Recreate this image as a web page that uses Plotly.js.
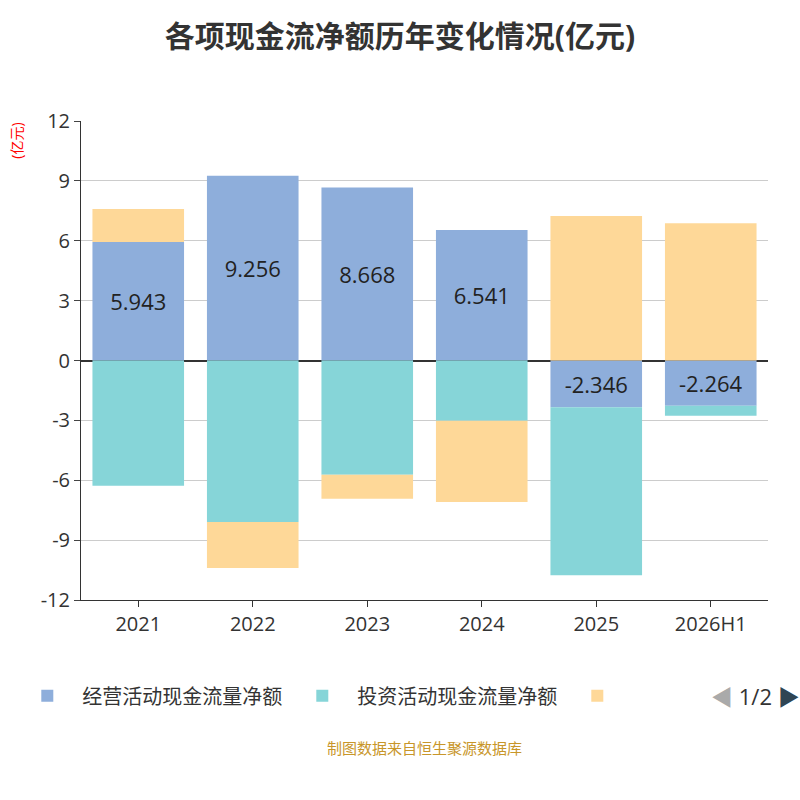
<!DOCTYPE html><html><head><meta charset="utf-8"><script src="https://cdn.plot.ly/plotly-3.0.1.min.js"></script></head><body style="margin:0"><div id="c" style="width:800px;height:800px"></div><script>
const categories=["2021","2022","2023","2024","2025","2026H1"];
const operating=[5.943,9.256,8.668,6.541,-2.346,-2.264];
const investing=[-6.28,-8.09,-5.73,-3.02,-8.41,-0.50];
const financing=[1.65,-2.31,-1.20,-4.07,7.24,6.88];
const yTicks=[-12,-9,-6,-3,0,3,6,9,12];
const names=["经营活动现金流量净额","投资活动现金流量净额","筹资活动现金流量净额"];
const font="'Open Sans','Noto Sans CJK SC',sans-serif";
const traces=[
{type:'bar',x:categories,y:operating,name:names[0],marker:{color:'#8eaedb'},text:operating.map(v=>v.toFixed(3)),textposition:'inside',insidetextanchor:'middle',textfont:{size:22,color:'#222'}},
{type:'bar',x:categories,y:investing,name:names[1],marker:{color:'#86d5d8'},textposition:'none'},
{type:'bar',x:categories,y:financing,name:names[2],marker:{color:'#fed898'},showlegend:false,textposition:'none'},
{type:'bar',x:[categories[0]],y:[null],name:' ',marker:{color:'#fed898'},hoverinfo:'skip'}
];
const layout={barmode:'relative',bargap:0.2,width:800,height:800,font:{family:font,color:'#333'},
title:{text:'<b>各项现金流净额历年变化情况(亿元)</b>',x:0.5,y:0.968,font:{size:30,color:'#333'}},
margin:{l:78,r:32,t:121,b:200},plot_bgcolor:'#fff',
xaxis:{type:'category',categoryarray:categories,tickfont:{size:20},showline:true,linecolor:'#333',ticks:'outside',ticklen:6,tickcolor:'#333'},
yaxis:{range:[-12,12],tickvals:yTicks,ticktext:yTicks.map(String),tickfont:{size:20},gridcolor:'#ccc',zeroline:true,zerolinecolor:'#333',zerolinewidth:1.5,showline:true,linecolor:'#333',ticks:'outside',ticklen:6},
legend:{orientation:'h',x:-0.1,xanchor:'left',y:-0.2,yanchor:'middle',font:{size:20},itemwidth:60},
showlegend:true,
annotations:[
{text:'(亿元)',xref:'paper',yref:'paper',x:-0.095,y:1.0,xanchor:'center',yanchor:'top',textangle:-90,showarrow:false,font:{size:14,color:'red'}},
{text:'<span style="color:#aaa">◀</span> 1/2 <span style="color:#2f4554">▶</span>',xref:'paper',yref:'paper',x:1.05,y:-0.2,xanchor:'right',yanchor:'middle',showarrow:false,font:{size:22,color:'#333'}},
{text:'制图数据来自恒生聚源数据库',xref:'paper',yref:'paper',x:0.5,y:-0.335,xanchor:'center',showarrow:false,font:{size:15,color:'#c8962a'}}
]};
Plotly.newPlot('c',traces,layout,{displayModeBar:false});
</script></body></html>
